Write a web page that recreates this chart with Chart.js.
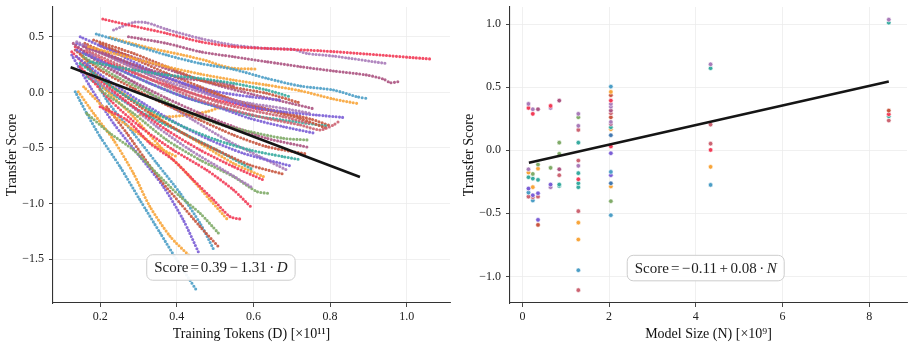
<!DOCTYPE html>
<html><head><meta charset="utf-8">
<script src="https://cdn.jsdelivr.net/npm/chart.js@4"></script>
<style>
html,body{margin:0;padding:0;background:#fff;}
#wrap{position:relative;width:914px;height:350px;overflow:hidden;}
canvas{position:absolute;top:0;}
#c1{left:0}
#c2{left:457px}
</style></head><body>
<div id="wrap"><canvas id="c1" width="457" height="350"></canvas><canvas id="c2" width="457" height="350"></canvas></div>
<script>
// ---------- DATA ----------
const palette = {red:'#f23b56', mauve:'#a97bb9', orange:'#f8a53a', blue:'#4c9ec6', teal:'#38aba0',
  green:'#80ab68', brick:'#c8563f', violet:'#7b5ed6', plum:'#ac5482', rose:'#cc6472', steel:'#4278b0'};

// Left panel: training trajectories (D in 1e11 tokens, transfer score)
const trajColor = ['red','mauve','plum','blue','orange','orange','teal','brick','plum','mauve','violet','rose',
  'violet','green','plum','brick','teal','violet','brick','mauve','red','mauve','green','red','red','orange',
  'orange','green','brick','blue','violet','orange','blue','teal','orange','brick','rose','violet','orange',
  'red','teal','plum','brick'];
const trajD = [
  [0.207,0.287,0.374,0.461,0.548,0.635,0.774,0.896,1.065],
  [0.235,0.287,0.322,0.374,0.461,0.548,0.635,0.704,0.739,0.809,0.945],
  [0.274,0.374,0.461,0.548,0.635,0.722,0.809,0.896,0.939,0.957,0.978],
  [0.190,0.287,0.374,0.461,0.548,0.635,0.722,0.809,0.870,0.900],
  [0.226,0.330,0.417,0.478,0.513,0.548,0.609],
  [0.170,0.287,0.374,0.461,0.548,0.635,0.722,0.809,0.874],
  [0.174,0.287,0.374,0.461,0.548,0.635,0.696],
  [0.183,0.287,0.374,0.461,0.548,0.635,0.717],
  [0.157,0.243,0.330,0.417,0.504,0.548],
  [0.139,0.243,0.330,0.417,0.504,0.591,0.678,0.751],
  [0.148,0.243,0.330,0.417,0.504,0.591,0.678,0.765,0.833],
  [0.165,0.287,0.374,0.461,0.548,0.635,0.722,0.774,0.809,0.826],
  [0.139,0.243,0.330,0.417,0.504,0.591,0.678,0.761],
  [0.157,0.243,0.330,0.417,0.504,0.591,0.678,0.742],
  [0.130,0.200,0.287,0.374,0.461,0.548,0.635,0.744],
  [0.135,0.200,0.287,0.374,0.461,0.548,0.635,0.739],
  [0.148,0.243,0.330,0.417,0.504,0.591,0.678,0.717],
  [0.139,0.226,0.313,0.400,0.487,0.574,0.698],
  [0.165,0.243,0.330,0.417,0.504,0.591,0.678],
  [0.174,0.270,0.357,0.443,0.530,0.617,0.687],
  [0.126,0.200,0.287,0.374,0.461,0.548,0.626],
  [0.174,0.261,0.348,0.435,0.522,0.600],
  [0.200,0.287,0.374,0.461,0.548,0.609,0.639],
  [0.148,0.226,0.304,0.391,0.478,0.548,0.597],
  [0.200,0.270,0.330,0.391,0.443,0.496,0.539,0.570],
  [0.148,0.200,0.287,0.357,0.426,0.487,0.535],
  [0.157,0.217,0.287,0.348,0.400],
  [0.165,0.226,0.287,0.348,0.409,0.461,0.509],
  [0.217,0.270,0.313,0.357,0.409,0.461,0.510],
  [0.165,0.217,0.287,0.348,0.409,0.461,0.496],
  [0.126,0.174,0.235,0.304,0.365,0.417,0.458],
  [0.143,0.183,0.235,0.287,0.330,0.383,0.435],
  [0.135,0.165,0.200,0.252,0.304,0.357,0.400,0.452],
  [0.165,0.243,0.330,0.417,0.504,0.600],
  [0.191,0.287,0.374,0.461,0.548,0.626],
  [0.200,0.287,0.374,0.461,0.548,0.635,0.722,0.791],
  [0.161,0.243,0.330,0.417,0.504,0.591,0.678,0.748],
  [0.139,0.243,0.330,0.417,0.504,0.591,0.670],
  [0.304,0.374,0.426,0.478,0.513],
  [0.135,0.226,0.313,0.400,0.487,0.626],
  [0.157,0.243,0.330,0.417,0.504,0.591,0.678,0.791],
  [0.200,0.300,0.400,0.500,0.600,0.700,0.760],
  [0.160,0.250,0.350,0.450,0.550,0.650,0.750,0.800]
];
const trajScore = [
  [0.659,0.596,0.530,0.455,0.410,0.395,0.374,0.344,0.299],
  [0.560,0.629,0.626,0.566,0.485,0.425,0.395,0.386,0.350,0.326,0.260],
  [0.500,0.440,0.365,0.320,0.275,0.231,0.192,0.156,0.120,0.087,0.096],
  [0.524,0.425,0.335,0.260,0.207,0.126,0.057,0.021,-0.039,-0.057],
  [0.494,0.398,0.335,0.284,0.243,0.216,0.210],
  [0.410,0.305,0.231,0.165,0.111,0.066,0.015,-0.060,-0.102],
  [0.275,0.201,0.156,0.126,0.081,0.021,-0.039],
  [0.470,0.350,0.231,0.111,0.045,-0.009,-0.090],
  [0.410,0.305,0.201,0.126,0.096,0.060],
  [0.455,0.290,0.156,0.051,-0.039,-0.099,-0.144,-0.189],
  [0.500,0.350,0.201,0.081,-0.039,-0.129,-0.174,-0.204,-0.225],
  [0.380,0.186,0.051,-0.069,-0.159,-0.234,-0.293,-0.338,-0.293,-0.254],
  [0.380,0.216,0.081,-0.039,-0.129,-0.234,-0.308,-0.368],
  [0.320,0.141,-0.009,-0.159,-0.278,-0.353,-0.413,-0.428],
  [0.440,0.260,0.096,-0.054,-0.189,-0.308,-0.413,-0.494],
  [0.380,0.201,0.036,-0.114,-0.249,-0.383,-0.488,-0.554],
  [0.260,0.021,-0.159,-0.308,-0.428,-0.518,-0.578,-0.602],
  [0.320,0.096,-0.099,-0.278,-0.428,-0.548,-0.662],
  [0.231,0.021,-0.189,-0.368,-0.518,-0.653,-0.734],
  [0.350,0.126,-0.069,-0.249,-0.428,-0.578,-0.698],
  [0.365,0.111,-0.129,-0.338,-0.518,-0.668,-0.787],
  [0.141,-0.069,-0.308,-0.518,-0.698,-0.862],
  [0.021,-0.189,-0.428,-0.608,-0.757,-0.892,-0.907],
  [0.231,-0.069,-0.308,-0.518,-0.698,-0.877,-1.042],
  [-0.129,-0.249,-0.458,-0.608,-0.787,-0.967,-1.117,-1.141],
  [0.350,0.081,-0.219,-0.488,-0.728,-0.967,-1.153],
  [0.051,-0.159,-0.338,-0.488,-0.578],
  [-0.189,-0.368,-0.518,-0.728,-0.937,-1.087,-1.266],
  [-0.129,-0.368,-0.578,-0.787,-0.997,-1.207,-1.392],
  [0.290,-0.069,-0.368,-0.638,-0.907,-1.177,-1.410],
  [0.335,0.051,-0.278,-0.578,-0.847,-1.147,-1.446],
  [0.006,-0.189,-0.428,-0.728,-1.027,-1.296,-1.476],
  [0.006,-0.189,-0.398,-0.668,-0.967,-1.266,-1.506,-1.781],
  [0.141,-0.039,-0.219,-0.368,-0.518,-0.698],
  [0.141,-0.069,-0.278,-0.458,-0.638,-0.757],
  [0.440,0.305,0.171,0.051,-0.069,-0.159,-0.234,-0.323],
  [0.425,0.290,0.156,0.021,-0.084,-0.159,-0.219,-0.278],
  [0.440,0.305,0.186,0.081,0.006,-0.039,-0.069],
  [-0.204,-0.219,-0.204,-0.174,-0.135],
  [0.410,0.260,0.141,0.036,-0.054,-0.159],
  [0.350,0.216,0.081,-0.039,-0.129,-0.204,-0.249,-0.302],
  [0.420,0.300,0.180,0.070,-0.020,-0.100,-0.150],
  [0.440,0.300,0.160,0.040,-0.070,-0.160,-0.240,-0.300]
];
const leftFitD = [0.123, 0.878];
const leftFitScore = [0.225, -0.760];
const leftXTicks = [0.2, 0.4, 0.6, 0.8, 1.0];
const leftYTicks = [-1.5, -1.0, -0.5, 0.0, 0.5];

// Right panel: final scores by model size (N in 1e9 params)
const modelSizes = [0.14, 0.24, 0.36, 0.65, 0.85, 1.29, 2.04, 4.34, 8.45];
const sizeScores = [
  [0.367,0.335,-0.151,-0.177,-0.214,-0.304,-0.336,-0.368],
  [0.325,0.288,-0.188,-0.225,-0.293,-0.357,-0.372,-0.399],
  [0.325,-0.114,-0.146,-0.235,-0.341,-0.368,-0.552,-0.592],
  [0.351,0.335,-0.140,-0.272,-0.293],
  [0.393,0.060,-0.029,-0.151,-0.198,-0.272,-0.283],
  [0.288,0.261,0.193,0.161,0.060,-0.082,-0.124,-0.182,-0.230,-0.262,-0.293,-0.483,-0.574,-0.708,-0.951,-1.109],
  [0.504,0.462,0.436,0.393,0.367,0.345,0.314,0.293,0.261,0.224,0.208,0.182,0.166,0.119,0.029,-0.024,-0.172,-0.198,-0.262,-0.288,-0.404,-0.515],
  [0.681,0.650,0.203,0.052,0.002,-0.132,-0.275],
  [1.035,1.011,0.314,0.285,0.269,0.235]
];
const sizeColors = [
  ['mauve','red','mauve','orange','teal','violet','blue','rose'],
  ['mauve','red','green','teal','orange','violet','rose','blue'],
  ['plum','green','orange','teal','violet','rose','violet','brick'],
  ['red','mauve','green','violet','mauve'],
  ['plum','green','green','plum','rose','teal','teal'],
  ['mauve','green','mauve','rose','teal','rose','mauve','teal','red','teal','teal','rose','orange','orange','blue','rose'],
  ['blue','orange','brick','red','mauve','mauve','plum','rose','brick','mauve','plum','teal','orange','steel','red','violet','blue','violet','steel','orange','green','blue'],
  ['mauve','teal','rose','rose','red','orange','blue'],
  ['mauve','teal','brick','red','teal','rose']
];
const rightFitN = [0.15, 8.45];
const rightFitScore = [-0.10, 0.545];
const rightXTicks = [0, 2, 4, 6, 8];
const rightYTicks = [-1.0, -0.5, 0.0, 0.5, 1.0];

// ---------- RENDER ----------
Chart.defaults.font.family = '"Liberation Serif", "DejaVu Serif", serif';
Chart.defaults.color = '#222';

const fmt1 = v => v.toFixed(1).replace('-', '\u2212');
const fmt0 = v => v.toFixed(0).replace('-', '\u2212');

function eqBox(parts, fx, fy) {
  return { id: 'eqbox', afterDatasetsDraw(chart) {
    const ctx = chart.ctx, a = chart.chartArea;
    const cx = a.left + fx * (a.right - a.left);
    const cy = a.top + fy * (a.bottom - a.top);
    ctx.save();
    let w = 0;
    parts.forEach((p, i) => {
      ctx.font = (p.it ? 'italic ' : '') + '15px "Liberation Serif", serif';
      p.w = ctx.measureText(p.t).width;
      w += p.w + (i ? p.g : 0);
    });
    const bw = w + 15, bh = 25.5;
    const x0 = cx - bw / 2, y0 = cy - bh / 2;
    ctx.beginPath();
    ctx.roundRect(x0, y0, bw, bh, 6);
    ctx.fillStyle = 'rgba(255,255,255,0.92)';
    ctx.fill();
    ctx.strokeStyle = '#cdcdcd';
    ctx.lineWidth = 1;
    ctx.stroke();
    ctx.fillStyle = '#1e1e1e';
    ctx.textBaseline = 'middle';
    let x = cx - w / 2;
    parts.forEach((p, i) => {
      if (i) x += p.g;
      ctx.font = (p.it ? 'italic ' : '') + '15px "Liberation Serif", serif';
      ctx.fillText(p.t, x, cy + 1);
      x += p.w;
    });
    ctx.restore();
  }};
}

function axes(xTicks, yTicks, xmin, xmax, ymin, ymax, xTitle, xfmt) {
  const grid = { color: '#ececec', lineWidth: 0.8, drawTicks: true, tickLength: 4, tickColor: '#333', tickWidth: 0.9 };
  return {
    x: { type: 'linear', min: xmin, max: xmax,
      afterBuildTicks: s => { s.ticks = xTicks.map(v => ({ value: v })); },
      afterFit: s => { s.height = 47; s.paddingLeft = 0; s.paddingRight = 0; },
      grid: grid, border: { display: true, color: '#333', width: 1.1 },
      ticks: { callback: v => xfmt(v), font: { size: 12 }, padding: 3, maxRotation: 0, autoSkip: false, color: '#222' },
      title: { display: true, text: xTitle, font: { size: 14 }, color: '#111', padding: { top: 0, bottom: 7 } } },
    y: { type: 'linear', min: ymin, max: ymax,
      afterBuildTicks: s => { s.ticks = yTicks.map(v => ({ value: v })); },
      afterFit: s => { s.width = 53; s.paddingTop = 0; s.paddingBottom = 0; },
      grid: grid, border: { display: true, color: '#333', width: 1.1 },
      ticks: { callback: v => fmt1(v), font: { size: 12 }, padding: 5, autoSkip: false, color: '#222' },
      title: { display: true, text: 'Transfer Score', font: { size: 14 }, color: '#111', padding: { top: 4, bottom: 0 } } }
  };
}

const baseOpts = (scales) => ({
  responsive: false, animation: false, devicePixelRatio: 1,
  layout: { padding: { left: 0, right: 7, top: 7, bottom: 0 } },
  plugins: { legend: { display: false }, tooltip: { enabled: false } },
  scales: scales
});

// Left chart
const leftSets = trajD.map((ds, i) => ({
  data: ds.map((d, j) => ({ x: d, y: trajScore[i][j] })),
  showLine: true, borderColor: palette[trajColor[i]] + 'e6', borderWidth: 3.1,
  borderDash: [0, 3.3], borderCapStyle: 'round', pointRadius: 0, tension: 0.25, order: 1
}));
leftSets.push({
  data: leftFitD.map((d, j) => ({ x: d, y: leftFitScore[j] })),
  showLine: true, borderColor: '#151515', borderWidth: 2.6, pointRadius: 0, order: -1
});
new Chart(document.getElementById('c1'), {
  type: 'scatter',
  data: { datasets: leftSets },
  options: baseOpts(axes(leftXTicks, leftYTicks, 0.077, 1.113, -1.893, 0.767, 'Training Tokens (D) [\u00d710\u00b9\u00b9]', fmt1)),
  plugins: [eqBox([{ t: 'Score', g: 0 }, { t: '=', g: 2 }, { t: '0.39', g: 2 }, { t: '\u2212', g: 2.5 }, { t: '1.31', g: 2.5 }, { t: '\u00b7', g: 2.5 }, { t: 'D', g: 2.5, it: true }], 0.423, 0.88)]
});

// Right chart
const rightSets = [];
modelSizes.forEach((n, i) => {
  sizeScores[i].forEach((s, j) => {
    rightSets.push({
      data: [{ x: n, y: s }], showLine: false, pointRadius: 2.3, pointBorderWidth: 0.6,
      pointBackgroundColor: palette[sizeColors[i][j]], pointBorderColor: '#ffffff', order: 1
    });
  });
});
rightSets.push({
  data: rightFitN.map((n, j) => ({ x: n, y: rightFitScore[j] })),
  showLine: true, borderColor: '#151515', borderWidth: 2.6, pointRadius: 0, order: -1
});
new Chart(document.getElementById('c2'), {
  type: 'scatter',
  data: { datasets: rightSets },
  options: baseOpts(axes(rightXTicks, rightYTicks, -0.286, 8.87, -1.211, 1.135, 'Model Size (N) [\u00d710\u2079]', fmt0)),
  plugins: [eqBox([{ t: 'Score', g: 0 }, { t: '=', g: 2 }, { t: '\u2212', g: 2.5 }, { t: '0.11', g: 1 }, { t: '+', g: 2.5 }, { t: '0.08', g: 2.5 }, { t: '\u00b7', g: 2.5 }, { t: 'N', g: 2.5, it: true }], 0.493, 0.882)]
});
</script>
</body></html>
